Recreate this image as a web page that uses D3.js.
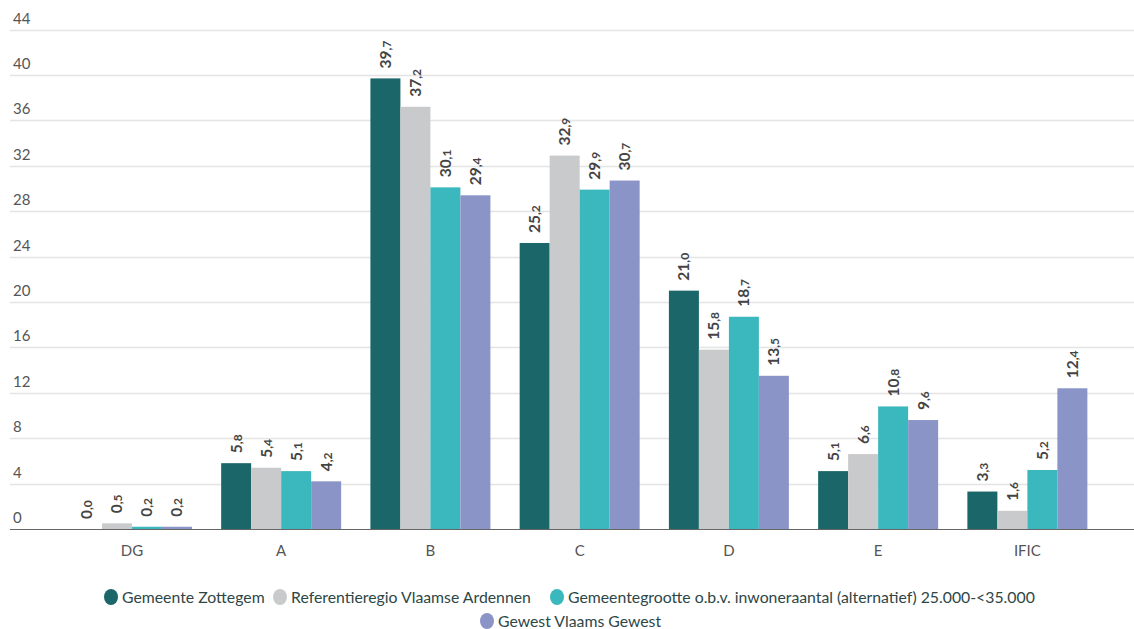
<!DOCTYPE html>
<html><head><meta charset="utf-8">
<script src="https://cdn.jsdelivr.net/npm/d3@7"></script>
<style>
body{margin:0;background:#fff;}
svg{display:block;font-family:"Source Sans Pro","Lato","Open Sans",sans-serif;}
</style></head>
<body>
<svg id="chart" width="1134" height="629"></svg>
<script>
const categories = ["DG","A","B","C","D","E","IFIC"];
const seriesNames = ["Gemeente Zottegem","Referentieregio Vlaamse Ardennen","Gemeentegrootte o.b.v. inwoneraantal (alternatief) 25.000-<35.000","Gewest Vlaams Gewest"];
const zottegem = [0.0, 5.8, 39.7, 25.2, 21.0, 5.1, 3.3];
const ardennen = [0.5, 5.4, 37.2, 32.9, 15.8, 6.6, 1.6];
const gemeentegrootte = [0.2, 5.1, 30.1, 29.9, 18.7, 10.8, 5.2];
const gewest = [0.2, 4.2, 29.4, 30.7, 13.5, 9.6, 12.4];
const yTicks = [0,4,8,12,16,20,24,28,32,36,40,44];
const colors = ["#1b6668","#c9cacb","#3bb8bd","#8b94c7"];

const series = [zottegem, ardennen, gemeentegrootte, gewest];
const svg = d3.select("#chart");

const y = d3.scaleLinear().domain([0,44]).range([529, 29.6]);
const x0 = d3.scaleBand().domain(categories).range([57.3, 1102]).paddingInner(0.196).paddingOuter(0.098);
const x1 = d3.scaleBand().domain(d3.range(series.length)).range([0, x0.bandwidth()]);

// gridlines
svg.append("g").selectAll("line").data(yTicks.filter(d=>d>0)).join("line")
  .attr("x1",10).attr("x2",1134)
  .attr("y1",d=>Math.round(y(d))+0.5).attr("y2",d=>Math.round(y(d))+0.5)
  .attr("stroke","#e4e4e4").attr("stroke-width",1.5);

// y tick labels
svg.append("g").selectAll("text").data(yTicks).join("text")
  .attr("x",13).attr("y",d=>y(d)-6)
  .attr("font-size",15).attr("fill","#555").text(d=>d);

// bars
const groups = svg.append("g").selectAll("g").data(categories).join("g")
  .attr("transform",d=>`translate(${x0(d)},0)`);

groups.selectAll("rect").data((c,i)=>series.map((s,j)=>({j, v:s[i]}))).join("rect")
  .attr("x",d=>x1(d.j)).attr("width",x1.bandwidth())
  .attr("y",d=>y(d.v)).attr("height",d=>y(0)-y(d.v))
  .attr("fill",d=>colors[d.j]);

// value labels
const lbl = groups.selectAll("text").data((c,i)=>series.map((s,j)=>({j, v:s[i]}))).join("text")
  .attr("transform",d=>`translate(${x1(d.j)+x1.bandwidth()/2},${y(d.v)-10}) rotate(-90)`)
  .attr("dy","0.35em").attr("font-weight","bold").attr("fill","#444").attr("font-size",15.5);
lbl.each(function(d){
  const parts = d.v.toFixed(1).split(".");
  const t = d3.select(this);
  t.append("tspan").text(parts[0]);
  t.append("tspan").attr("font-size",12).text(","+parts[1]);
});

// x axis
svg.append("line").attr("x1",10).attr("x2",1134).attr("y1",529.5).attr("y2",529.5)
  .attr("stroke","#666").attr("stroke-width",1.2);
svg.append("g").selectAll("text").data(categories).join("text")
  .attr("x",d=>x0(d)+x0.bandwidth()/2).attr("y",556)
  .attr("text-anchor","middle").attr("font-size",15).attr("fill","#555").text(d=>d);

// legend
const legendItems = [
  {i:0, cx:111, cy:597},
  {i:1, cx:280, cy:597},
  {i:2, cx:557, cy:597},
  {i:3, cx:487, cy:621}
];
const lg = svg.append("g").selectAll("g").data(legendItems).join("g");
lg.append("ellipse").attr("cx",d=>d.cx).attr("cy",d=>d.cy).attr("rx",7).attr("ry",8)
  .attr("fill",d=>colors[d.i]);
lg.append("text").attr("x",d=>d.cx+11).attr("y",d=>d.cy+5.5)
  .attr("font-size",15.8).attr("fill","#2d4646").text(d=>seriesNames[d.i]);
</script>
</body></html>
